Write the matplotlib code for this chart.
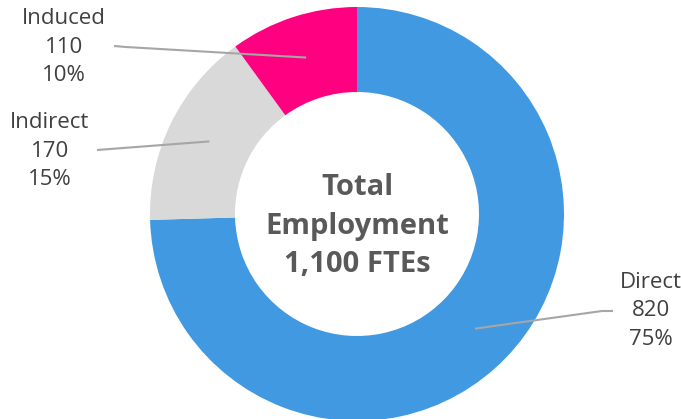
import numpy as np
import matplotlib.pyplot as plt

# datos del grafico
categorias = ['Direct', 'Indirect', 'Induced']
empleos = [820, 170, 110]
porcentajes = ['75%', '15%', '10%']
colores = ['#4199E1', '#D9D9D9', '#FF0080']
titulo_centro = 'Total\nEmployment\n1,100 FTEs'

W, H = 681, 419
fig = plt.figure(figsize=(W / 100, H / 100), dpi=100)
ax = fig.add_axes([0, 0, 1, 1])

centro = (357, 205)
radio = 207
ancho = 85

wedges, _ = ax.pie(empleos, colors=colores, startangle=90, counterclock=False,
                   center=centro, radius=radio, frame=True,
                   wedgeprops=dict(width=ancho, linewidth=0))
ax.set_xlim(0, W)
ax.set_ylim(0, H)
ax.set_aspect('equal')
ax.axis('off')

ax.text(centro[0], H - 226, titulo_centro, ha='center', va='center',
        fontsize=21, fontweight='bold', color='#595959', family='Open Sans',
        linespacing=1.45)

# posicion del texto y codo de la linea guia (en pixeles, y hacia arriba)
pos_texto = [(651, H - 311), (50, H - 151), (64, H - 47)]
pos_linea = [[(613, H - 311), (602, H - 311)],
             [(97, H - 150)],
             [(114, H - 46), (126, H - 47)]]

r_medio = radio - ancho / 2
for w, cat, n, p, pt, pl in zip(wedges, categorias, empleos, porcentajes, pos_texto, pos_linea):
    ang = np.deg2rad((w.theta1 + w.theta2) / 2)
    x0 = centro[0] + r_medio * np.cos(ang)
    y0 = centro[1] + r_medio * np.sin(ang)
    xs = [q[0] for q in pl] + [x0]
    ys = [q[1] for q in pl] + [y0]
    ax.plot(xs, ys, color='#A6A6A6', lw=1.5, solid_capstyle='butt')
    ax.text(pt[0], pt[1], '{}\n{}\n{}'.format(cat, n, p), ha='center', va='center',
            fontsize=16, color='#404040', family='Open Sans', linespacing=1.45)

fig.savefig('out.png', dpi=100)
